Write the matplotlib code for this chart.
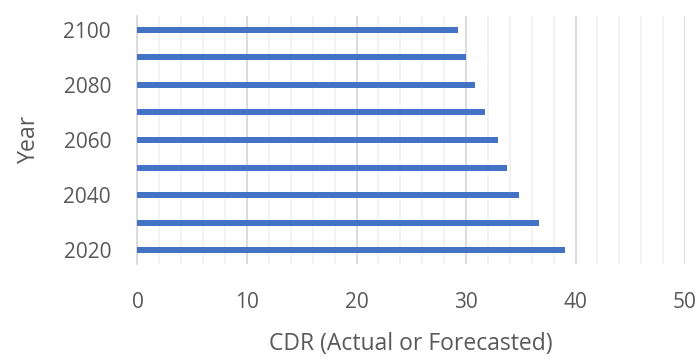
import matplotlib.pyplot as plt
from matplotlib.ticker import MultipleLocator

years = [2020, 2030, 2040, 2050, 2060, 2070, 2080, 2090, 2100]
cdr = [39.0, 36.7, 34.8, 33.7, 32.9, 31.7, 30.8, 30.0, 29.3]
tick_years = [2020, 2040, 2060, 2080, 2100]

plt.rcParams['font.family'] = ['Open Sans', 'DejaVu Sans']
text_color = '#595959'

fig = plt.figure(figsize=(6.99, 3.58), dpi=100)
ax = fig.add_axes([0.1967, 0.2626, 0.7833, 0.6927])

pos = list(range(len(years)))
ax.barh(pos, cdr, height=0.22, color='#4472C4', zorder=3)

ax.set_xlim(0, 50)
ax.set_ylim(-0.5, len(years) - 0.5)
ax.xaxis.set_major_locator(MultipleLocator(10))
ax.xaxis.set_minor_locator(MultipleLocator(2))
ax.grid(axis='x', which='major', color='#d9d9d9', linewidth=1.3, zorder=1)
ax.grid(axis='x', which='minor', color='#f2f2f2', linewidth=1.3, zorder=0)

ax.set_yticks([years.index(y) for y in tick_years])
ax.set_yticklabels([str(y) for y in tick_years])

for side in ['top', 'right', 'bottom']:
    ax.spines[side].set_visible(False)
ax.spines['left'].set_color('#d9d9d9')
ax.spines['left'].set_linewidth(1.3)

ax.tick_params(axis='both', which='both', length=0, labelsize=15,
               labelcolor=text_color)
ax.tick_params(axis='y', pad=19)
ax.tick_params(axis='x', pad=20)

ax.set_xlabel('CDR (Actual or Forecasted)', fontsize=16.5, color=text_color,
              labelpad=14)
ax.set_ylabel('Year', fontsize=16.7, color=text_color, labelpad=16)

fig.savefig('out.png', dpi=100)
